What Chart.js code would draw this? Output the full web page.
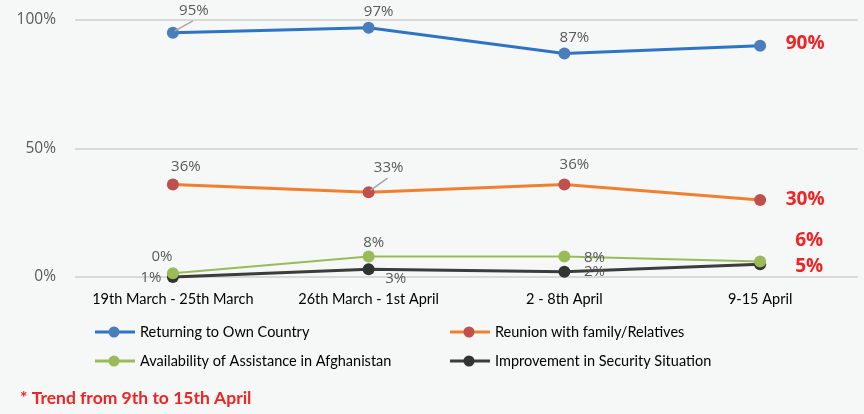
<!DOCTYPE html>
<html>
<head>
<meta charset="utf-8">
<script src="https://cdn.jsdelivr.net/npm/chart.js@4"></script>
<style>
  html, body { margin: 0; padding: 0; background: #f6f7f7; }
  #wrap { width: 864px; height: 414px; }
</style>
</head>
<body>
<div id="wrap"><canvas id="c" width="864" height="414"></canvas></div>
<script>
// ---- data ----
const categories = ['19th March - 25th March', '26th March - 1st April', '2 - 8th April', '9-15 April'];
const seriesNames = ['Returning to Own Country', 'Reunion with family/Relatives', 'Availability of Assistance in Afghanistan', 'Improvement in Security Situation'];
const returning = [95, 97, 87, 90];
const reunion = [36, 33, 36, 30];
const assistance = [1.5, 8, 8, 6];
const security = [0, 3, 2, 5];
const returningLabels = ['95%', '97%', '87%', '90%'];
const reunionLabels = ['36%', '33%', '36%', '30%'];
const assistanceLabels = ['0%', '8%', '8%', '6%'];
const securityLabels = ['1%', '3%', '2%', '5%'];
const yTicks = [0, 50, 100];
const footnote = '* Trend from 9th to 15th April';

// ---- styles (label offsets from their point, in px) ----
const labelOffsets = [
  [[21, -22], [10, -16], [10, -16], [45, -2]],
  [[13, -18], [20, -24], [10, -20], [45, 0]],
  [[-11, -16], [5, -14], [30, 1], [49, -21]],
  [[-22, 1], [27, 9], [30, 0], [49, 2]]
];
const leaders = { '0-0': true, '1-1': true };
const lineColors = ['#2e74c5', '#f08030', '#9bbb59', '#3c3c3c'];
const markerColors = ['#4a7ebb', '#c0504d', '#9bbb59', '#333333'];
const lineWidths = [3, 3, 2, 3];
const allLabels = [returningLabels, reunionLabels, assistanceLabels, securityLabels];

const labelPlugin = {
  id: 'valueLabels',
  afterDatasetsDraw(chart) {
    const ctx = chart.ctx;
    ctx.save();
    ctx.textAlign = 'center';
    ctx.textBaseline = 'middle';
    chart.data.datasets.forEach((ds, di) => {
      const meta = chart.getDatasetMeta(di);
      meta.data.forEach((pt, i) => {
        const [dx, dy] = labelOffsets[di][i];
        const last = i === meta.data.length - 1;
        const lx = pt.x + dx, ly = pt.y + dy;
        if (leaders[di + '-' + i]) {
          ctx.strokeStyle = '#a6a6a6';
          ctx.lineWidth = 1.5;
          ctx.beginPath();
          ctx.moveTo(pt.x + 2, pt.y - 2);
          ctx.lineTo(lx - 1, ly + 10);
          ctx.stroke();
        }
        if (last) {
          ctx.font = 'bold 19px "Open Sans"';
          ctx.fillStyle = '#f02424';
        } else {
          ctx.font = '15px "Open Sans"';
          ctx.fillStyle = '#595959';
        }
        ctx.fillText(allLabels[di][i], lx, ly);
      });
    });
    ctx.restore();
  },
  afterDraw(chart) {
    const ctx = chart.ctx;
    ctx.save();
    const cols = [95, 450], rows = [332, 361];
    chart.data.datasets.forEach((ds, di) => {
      const x = cols[di % 2], y = rows[Math.floor(di / 2)];
      ctx.strokeStyle = lineColors[di];
      ctx.lineWidth = 3;
      ctx.beginPath();
      ctx.moveTo(x, y);
      ctx.lineTo(x + 40, y);
      ctx.stroke();
      ctx.fillStyle = markerColors[di];
      ctx.beginPath();
      ctx.arc(x + 19, y, 5.5, 0, Math.PI * 2);
      ctx.fill();
      ctx.fillStyle = '#000000';
      ctx.font = '14.5px Lato';
      ctx.textAlign = 'left';
      ctx.textBaseline = 'middle';
      ctx.fillText(ds.label, x + 45, y);
    });
    ctx.font = 'bold 17.5px Lato';
    ctx.fillStyle = '#f02424';
    ctx.textAlign = 'left';
    ctx.textBaseline = 'middle';
    ctx.fillText(footnote, 20, 398);
    ctx.restore();
  }
};

const seriesData = [returning, reunion, assistance, security];
new Chart(document.getElementById('c'), {
  type: 'line',
  data: {
    labels: categories,
    datasets: seriesData.map((d, i) => ({
      label: seriesNames[i],
      data: d,
      borderColor: lineColors[i],
      borderWidth: lineWidths[i],
      pointBackgroundColor: markerColors[i],
      pointBorderColor: markerColors[i],
      pointRadius: 6,
      pointBorderWidth: 0,
      tension: 0,
      clip: false
    }))
  },
  options: {
    responsive: false,
    animation: false,
    devicePixelRatio: 1,
    layout: { padding: { top: 20, right: 1, left: 0, bottom: 0 } },
    plugins: { legend: { display: false }, tooltip: { enabled: false } },
    scales: {
      x: {
        offset: true,
        grid: { display: false },
        border: { display: false },
        ticks: { font: { family: 'Lato', size: 14.5 }, color: '#000000', padding: 6, maxRotation: 0, autoSkip: false },
        afterFit(s) { s.height = 137; }
      },
      y: {
        min: 0, max: 100,
        afterBuildTicks(s) { s.ticks = yTicks.map(v => ({ value: v })); },
        ticks: { callback: v => v + '%', font: { family: 'Open Sans', size: 15.5 }, color: '#595959', padding: 19 },
        grid: { color: '#d9d9d9', lineWidth: 2, drawTicks: false },
        border: { display: false },
        afterFit(s) { s.width = 75; s.paddingTop = 0; s.paddingBottom = 0; }
      }
    }
  },
  plugins: [labelPlugin]
});
</script>
</body>
</html>
